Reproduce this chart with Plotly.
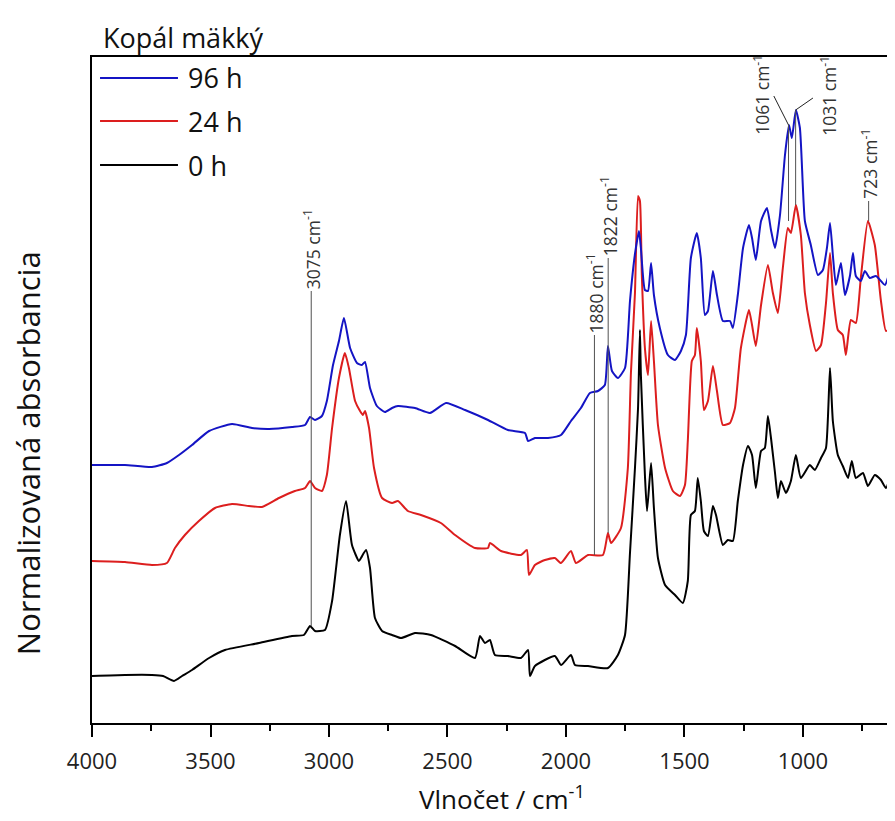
import plotly.graph_objects as go

# ---- data (wavenumber / cm-1, normalized absorbance, arbitrary offset units) ----
wn_0h = [4000,3861,3747,3700,3654,3620,3578,3506,3439,3295,3156,3106,3080,3059,3017,2987,2954,2928,2903,2874,2865,2844,2827,2806,2776,2734,2696,2637,2570,2468,2384,2363,2342,2321,2300,2245,2190,2160,2152,2131,2047,2021,1979,1962,1907,1823,1781,1751,1730,1709,1696,1688,1684,1667,1658,1641,1629,1612,1582,1540,1507,1486,1473,1456,1444,1431,1418,1401,1380,1367,1338,1317,1296,1275,1253,1232,1215,1199,1177,1161,1148,1135,1118,1106,1093,1072,1051,1030,1009,971,950,924,903,886,874,853,832,810,794,777,747,726,697,671,650,629,616,599,587,578]
abs_0h = [0.47,0.48,0.48,0.47,0.42,0.47,0.53,0.65,0.73,0.80,0.87,0.88,0.97,0.92,0.93,1.22,1.88,2.22,1.78,1.62,1.65,1.73,1.55,1.05,0.92,0.88,0.85,0.90,0.88,0.77,0.65,0.87,0.80,0.83,0.68,0.67,0.65,0.73,0.47,0.57,0.67,0.58,0.68,0.58,0.57,0.55,0.68,0.88,1.70,2.55,3.15,3.93,3.48,2.48,2.12,2.60,2.15,1.65,1.38,1.28,1.20,1.42,2.08,2.12,2.45,2.22,1.92,1.87,2.17,2.08,1.78,1.83,1.82,2.22,2.58,2.77,2.68,2.35,2.72,2.75,3.07,2.85,2.50,2.25,2.42,2.30,2.42,2.68,2.45,2.58,2.53,2.65,2.75,3.55,3.02,2.68,2.57,2.45,2.62,2.45,2.50,2.37,2.48,2.43,2.35,2.52,2.73,2.68,2.52,2.65]

wn_24h = [4000,3861,3747,3684,3650,3608,3549,3481,3409,3338,3283,3211,3144,3101,3080,3059,3030,3009,2987,2958,2933,2916,2890,2869,2857,2848,2831,2810,2776,2734,2709,2667,2612,2528,2468,2384,2329,2321,2274,2190,2165,2156,2131,2089,2047,2021,1979,1958,1907,1844,1823,1810,1768,1739,1726,1709,1696,1688,1680,1667,1654,1641,1629,1612,1582,1549,1519,1498,1486,1469,1456,1448,1431,1418,1401,1380,1363,1338,1308,1287,1262,1228,1215,1199,1177,1148,1127,1106,1085,1064,1051,1030,1009,992,971,945,924,903,886,874,853,832,819,798,777,756,726,697,671,650,621,591,578]
abs_24h = [1.62,1.61,1.58,1.60,1.75,1.88,2.02,2.15,2.19,2.17,2.16,2.25,2.32,2.35,2.42,2.35,2.32,2.48,2.95,3.45,3.70,3.55,3.22,3.12,3.08,3.12,2.95,2.55,2.25,2.20,2.22,2.12,2.08,2.00,1.88,1.75,1.75,1.80,1.72,1.68,1.73,1.48,1.58,1.63,1.65,1.60,1.72,1.60,1.68,1.68,1.90,1.80,1.95,2.55,3.50,4.30,5.27,5.22,4.48,3.75,3.48,4.02,3.62,2.98,2.55,2.32,2.27,2.38,2.82,3.62,3.68,3.95,3.62,3.13,3.22,3.57,3.32,2.98,3.00,3.15,3.75,4.13,3.98,3.77,4.18,4.58,4.30,4.10,4.55,4.95,4.90,5.18,4.88,4.30,3.98,3.72,3.78,4.20,4.70,4.30,3.93,3.88,3.68,4.03,4.00,4.45,5.02,4.78,4.22,3.92,4.00,4.12,4.17]

wn_96h = [4000,3861,3747,3684,3633,3578,3506,3409,3325,3253,3156,3101,3080,3059,3030,3009,2983,2958,2937,2911,2882,2861,2848,2827,2798,2764,2734,2709,2637,2574,2506,2426,2329,2245,2173,2160,2131,2076,2021,1979,1937,1899,1865,1836,1823,1806,1781,1751,1730,1709,1692,1684,1667,1654,1641,1629,1604,1570,1540,1515,1494,1473,1448,1431,1414,1401,1380,1363,1338,1308,1296,1275,1253,1228,1215,1199,1177,1152,1135,1118,1097,1076,1059,1047,1030,1013,992,967,937,916,899,886,874,861,840,823,802,789,777,756,739,718,692,654,633,612,591,578]
abs_96h = [2.58,2.58,2.56,2.60,2.68,2.78,2.92,2.99,2.95,2.94,2.96,2.98,3.06,3.03,3.07,3.22,3.58,3.82,4.05,3.75,3.60,3.58,3.61,3.35,3.17,3.11,3.15,3.17,3.15,3.10,3.20,3.13,3.03,2.93,2.90,2.82,2.85,2.85,2.88,3.02,3.15,3.30,3.32,3.38,3.77,3.52,3.45,3.55,4.22,4.69,4.92,4.75,4.33,4.32,4.60,4.28,3.95,3.68,3.63,3.72,3.88,4.65,4.90,4.65,4.08,4.12,4.52,4.28,4.02,4.02,3.95,4.28,4.75,4.98,4.85,4.63,5.02,5.15,4.93,4.75,5.08,5.68,5.98,5.85,6.13,5.95,5.02,4.78,4.48,4.53,4.75,5.00,4.68,4.38,4.60,4.28,4.47,4.70,4.47,4.42,4.52,4.45,4.47,4.38,4.52,4.63,4.65,4.68]

series_names = ["96 h", "24 h", "0 h"]
series_colors = ["#1414c4", "#dc1e1e", "#000000"]

# peak annotations: label, line x, line bottom, line top
peak_labels = ["3075", "1880", "1822", "723"]
peak_x = [3075, 1880, 1822, 723]
peak_y0 = [0.97, 1.68, 1.90, 5.02]
peak_y1 = [4.32, 3.88, 4.65, 5.22]

X_RANGE = [4000, 578]
Y_RANGE = [0, 6.66]

fig = go.Figure()
for wn, ab, name, col in [(wn_0h, abs_0h, "0 h", "#000000"),
                          (wn_24h, abs_24h, "24 h", "#dc1e1e"),
                          (wn_96h, abs_96h, "96 h", "#1414c4")]:
    fig.add_trace(go.Scatter(x=wn, y=ab, mode="lines", name=name,
                             line=dict(color=col, width=2, shape="spline", smoothing=0.5),
                             showlegend=False))

FONT = "Open Sans"
GRAY = "#505050"
ANN = 17.5
shapes = []
annotations = []
for lab, x, y0, y1 in zip(peak_labels, peak_x, peak_y0, peak_y1):
    shapes.append(dict(type="line", xref="x", yref="y", x0=x, x1=x, y0=y0, y1=y1,
                       line=dict(color=GRAY, width=1)))
    annotations.append(dict(xref="x", yref="y", x=x, y=y1, text=lab + " cm<sup>-1</sup>",
                            textangle=-90, showarrow=False, xanchor="center", yanchor="bottom",
                            font=dict(family=FONT, size=ANN, color="#333333")))

# 1061 / 1031 with leader lines
for lab, x, yb, yt, lx, ly, tx, ty in [("1061", 1061, 5.02, 5.98, 1123, 6.27, 1178, 5.86),
                                       ("1031", 1031, 5.18, 6.13, 958, 6.25, 895, 5.85)]:
    shapes.append(dict(type="line", xref="x", yref="y", x0=x, x1=x, y0=yb, y1=yt,
                       line=dict(color=GRAY, width=1)))
    shapes.append(dict(type="line", xref="x", yref="y", x0=x, x1=lx, y0=yt, y1=ly,
                       line=dict(color="#222222", width=1)))
    annotations.append(dict(xref="x", yref="y", x=tx, y=ty, text=lab + " cm<sup>-1</sup>",
                            textangle=-90, showarrow=False, xanchor="center", yanchor="bottom",
                            font=dict(family=FONT, size=ANN, color="#333333")))

# partially visible marker at the right edge
shapes.append(dict(type="line", xref="x", yref="y", x0=587, x1=587, y0=2.68, y1=2.95,
                   line=dict(color=GRAY, width=1)))

# manual legend
leg_y = [0.9685, 0.9039, 0.8378]
for name, col, yy in zip(series_names, series_colors, leg_y):
    shapes.append(dict(type="line", xref="paper", yref="paper", x0=0.0099, x1=0.106,
                       y0=yy, y1=yy, line=dict(color=col, width=2)))
    annotations.append(dict(xref="paper", yref="paper", x=0.1159, y=yy, text=name,
                            showarrow=False, xanchor="left", yanchor="middle",
                            font=dict(family=FONT, size=27, color="#111111")))

# title, axis titles
annotations.append(dict(xref="paper", yref="paper", x=0.011, y=1.029, text="Kopál mäkký",
                        showarrow=False, xanchor="left", yanchor="middle",
                        font=dict(family=FONT, size=27, color="#111111")))
annotations.append(dict(xref="paper", yref="paper", x=0.505, y=-0.1126,
                        text="Vlnočet / cm<sup>-1</sup>", showarrow=False,
                        xanchor="center", yanchor="middle",
                        font=dict(family=FONT, size=26, color="#111111")))
annotations.append(dict(xref="paper", yref="paper", x=-0.079, y=0.405,
                        text="Normalizovaná absorbancia", showarrow=False, textangle=-90,
                        xanchor="center", yanchor="middle",
                        font=dict(family=FONT, size=31, color="#111111")))

fig.update_layout(
    width=895, height=821,
    margin=dict(l=84, r=0, t=49, b=106),
    paper_bgcolor="white", plot_bgcolor="white",
    shapes=shapes, annotations=annotations,
    showlegend=False,
    xaxis=dict(range=X_RANGE, dtick=500, tick0=0, ticks="outside", ticklen=12, tickwidth=2,
               tickcolor="black", showline=True, linecolor="black", linewidth=2, mirror=True,
               showgrid=False, zeroline=False, ticklabelstandoff=6,
               tickfont=dict(family=FONT, size=22, color="#222222"),
               minor=dict(dtick=250, ticks="outside", ticklen=6, tickwidth=2, tickcolor="black")),
    yaxis=dict(range=Y_RANGE, showticklabels=False, ticks="", showline=True, linecolor="black",
               linewidth=2, showgrid=False, zeroline=False),
)

fig.write_html("out.html")
